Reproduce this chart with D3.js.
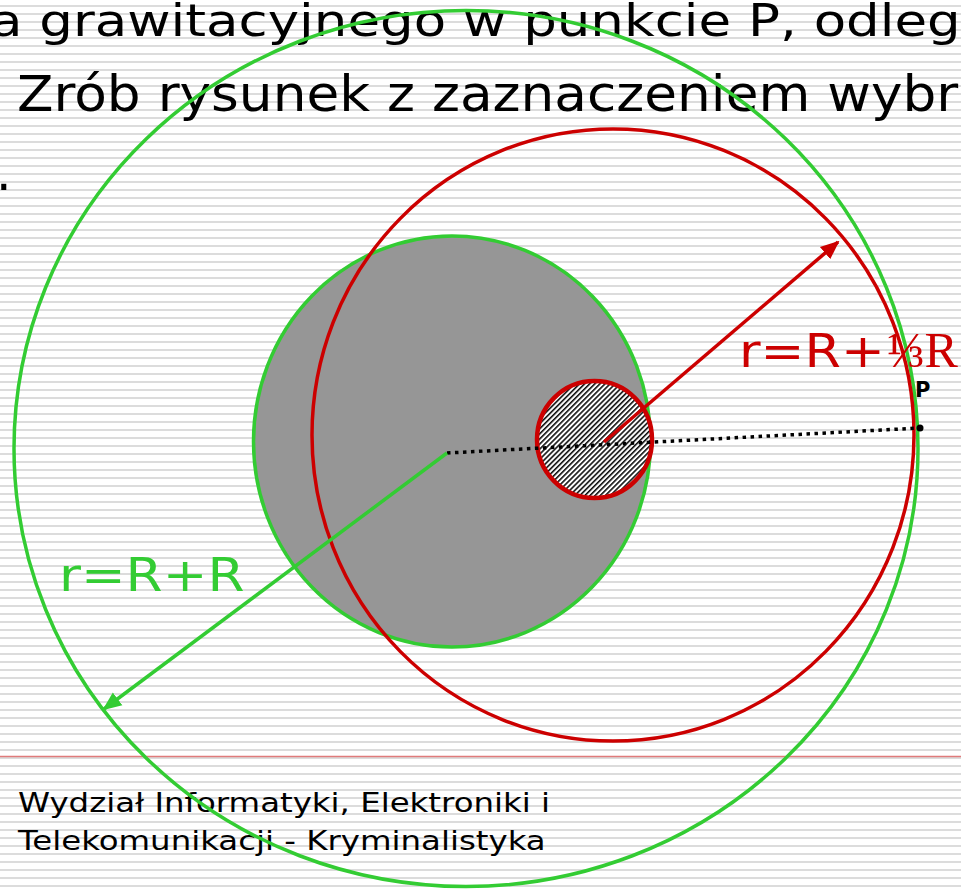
<!DOCTYPE html>
<html>
<head>
<meta charset="utf-8">
<script src="https://cdn.jsdelivr.net/npm/d3@7"></script>
<style>
  html, body { margin: 0; padding: 0; background: #fff; overflow: hidden; }
</style>
</head>
<body>
<div id="chart"></div>
<script>
// diagram geometry in units of R (gray sphere radius), origin at its centre, y up
let circleNames = ['outer', 'planet', 'orbit', 'cavity']
let circleCx = [0.07, 0.0, 0.805, 0.7125]
let circleCy = [-0.0175, 0.0175, 0.05, 0.0275]
let circleRx = [2.26, 0.9925, 1.505, 0.2875]
let circleRy = [2.19, 1.0275, 1.53, 0.2925]

let arrowNames = ['red', 'green']
let arrowFrom = [[0.76, 0.015], [-0.025, -0.04]]
let arrowTo = [[1.93, 1.015], [-1.74, -1.32]]

let distFrom = [-0.025, -0.04]
let pointP = [2.34, 0.085]

let titleLines = ['a grawitacyjnego w punkcie P, odleg', 'Zrób rysunek z zaznaczeniem wybr', '.']
let footerLines = ['Wydział Informatyki, Elektroniki i', 'Telekomunikacji - Kryminalistyka']
let labelRed = ['r=R+', '⅓R']
let labelGreen = 'r=R+R'

const W = 961, H = 889
const SANS = 'DejaVu Sans, Verdana, sans-serif'
d3.selectAll('svg').remove()

let svg = d3.select('div#chart')
  .append('svg')
    .attr('width', W)
    .attr('height', H)

let x = d3.scaleLinear().domain([0, 1]).range([452, 652])
let y = d3.scaleLinear().domain([0, 1]).range([445, 245])
let k = x(1) - x(0)

let defs = svg.append('defs')

// slide background stripes
let stripes = defs.append('pattern')
  .attr('id', 'stripes')
  .attr('patternUnits', 'userSpaceOnUse')
  .attr('width', 8).attr('height', 8)
  .attr('y', 5)
stripes.append('rect')
  .attr('width', 8).attr('height', 2)
  .attr('fill', '#dcdcdc')

let hatch = defs.append('pattern')
  .attr('id', 'hatch')
  .attr('patternUnits', 'userSpaceOnUse')
  .attr('width', 3.6).attr('height', 3.6)
  .attr('patternTransform', 'rotate(45)')
hatch.append('rect').attr('width', 3.6).attr('height', 3.6).attr('fill', '#fff')
hatch.append('line')
  .attr('x1', 0.8).attr('y1', 0).attr('x2', 0.8).attr('y2', 3.6)
  .attr('stroke', '#000').attr('stroke-width', 1.5)

let arrowColors = {red: '#cc0000', green: '#33cc33'}
arrowNames.forEach(n => {
  defs.append('marker')
    .attr('id', 'head-' + n)
    .attr('markerUnits', 'userSpaceOnUse')
    .attr('viewBox', '0 -9 19 18')
    .attr('markerWidth', 19).attr('markerHeight', 18)
    .attr('refX', 17).attr('refY', 0)
    .attr('orient', 'auto')
  .append('path')
    .attr('d', 'M0,-8 L19,0 L0,8 Z')
    .attr('fill', arrowColors[n])
})

svg.append('rect')
  .attr('width', W).attr('height', H)
  .attr('fill', 'url(#stripes)')

svg.append('line')
  .attr('x1', 0).attr('x2', W)
  .attr('y1', 756.5).attr('y2', 756.5)
  .attr('stroke', '#e07b7b')
  .attr('stroke-width', 1.5)

// slide text (the slide font is drawn wider than DejaVu, so stretch it)
let titleX = [-10, 17, -4]
let titleY = [36, 111, 190]
let titleSize = [44, 49, 49]
let titleStretch = [1.205, 1.088, 1]

svg.append('g')
  .attr('font-family', SANS)
  .attr('fill', '#000')
  .selectAll('text')
  .data(titleLines)
  .enter().append('text')
  .attr('transform', (d, i) => `translate(${titleX[i]},${titleY[i]}) scale(${titleStretch[i]},1)`)
  .attr('font-size', (d, i) => titleSize[i])
  .text(d => d)

svg.append('g')
  .attr('font-family', SANS)
  .attr('font-size', 27)
  .selectAll('text')
  .data(footerLines)
  .enter().append('text')
  .attr('transform', (d, i) => `translate(18,${812 + i * 38}) scale(1.2,1)`)
  .text(d => d)

// circles
let circles = circleNames.map((n, i) => ({
  name: n, cx: circleCx[i], cy: circleCy[i], rx: circleRx[i], ry: circleRy[i]
}))
let circleStyle = {
  outer: {fill: 'none', stroke: '#33cc33', sw: 3.5},
  planet: {fill: '#969696', stroke: '#33cc33', sw: 3.5},
  orbit: {fill: 'none', stroke: '#cc0000', sw: 3.5},
  cavity: {fill: 'url(#hatch)', stroke: '#cc0000', sw: 4.5}
}
let drawOrder = ['planet', 'outer', 'orbit', 'cavity']

svg.append('g')
  .selectAll('ellipse')
  .data(drawOrder.map(n => circles.find(c => c.name === n)))
  .enter().append('ellipse')
  .attr('cx', d => x(d.cx))
  .attr('cy', d => y(d.cy))
  .attr('rx', d => d.rx * k)
  .attr('ry', d => d.ry * k)
  .attr('fill', d => circleStyle[d.name].fill)
  .attr('stroke', d => circleStyle[d.name].stroke)
  .attr('stroke-width', d => circleStyle[d.name].sw)

// distance to P
svg.append('line')
  .attr('x1', x(distFrom[0])).attr('y1', y(distFrom[1]))
  .attr('x2', x(pointP[0])).attr('y2', y(pointP[1]))
  .attr('stroke', '#000')
  .attr('stroke-width', 3.5)
  .attr('stroke-dasharray', '3.5 4.5')

svg.append('circle')
  .attr('cx', x(pointP[0])).attr('cy', y(pointP[1]))
  .attr('r', 3.5)
  .attr('fill', '#000')

svg.append('text')
  .attr('x', x(pointP[0]) - 5).attr('y', y(pointP[1]) - 31)
  .attr('font-family', SANS)
  .attr('font-weight', 'bold')
  .attr('font-size', 21)
  .text('P')

// radius arrows
svg.append('g')
  .selectAll('line')
  .data(arrowNames)
  .enter().append('line')
  .attr('x1', (d, i) => x(arrowFrom[i][0]))
  .attr('y1', (d, i) => y(arrowFrom[i][1]))
  .attr('x2', (d, i) => x(arrowTo[i][0]))
  .attr('y2', (d, i) => y(arrowTo[i][1]))
  .attr('stroke', d => arrowColors[d])
  .attr('stroke-width', 3.5)
  .attr('marker-end', d => `url(#head-${d})`)

// labels
let redLabel = svg.append('g').attr('fill', '#cc0000')
redLabel.append('text')
  .attr('transform', 'translate(739,367) scale(1.14,1)')
  .attr('font-family', SANS)
  .attr('font-size', 46)
  .text(labelRed[0])
redLabel.append('text')
  .attr('x', 887).attr('y', 367)
  .attr('font-family', 'Liberation Serif, Times New Roman, serif')
  .attr('font-size', 50)
  .text(labelRed[1])

svg.append('text')
  .attr('transform', 'translate(59,591) scale(1.16,1)')
  .attr('fill', '#33cc33')
  .attr('font-family', SANS)
  .attr('font-size', 46)
  .text(labelGreen)
</script>
</body>
</html>
